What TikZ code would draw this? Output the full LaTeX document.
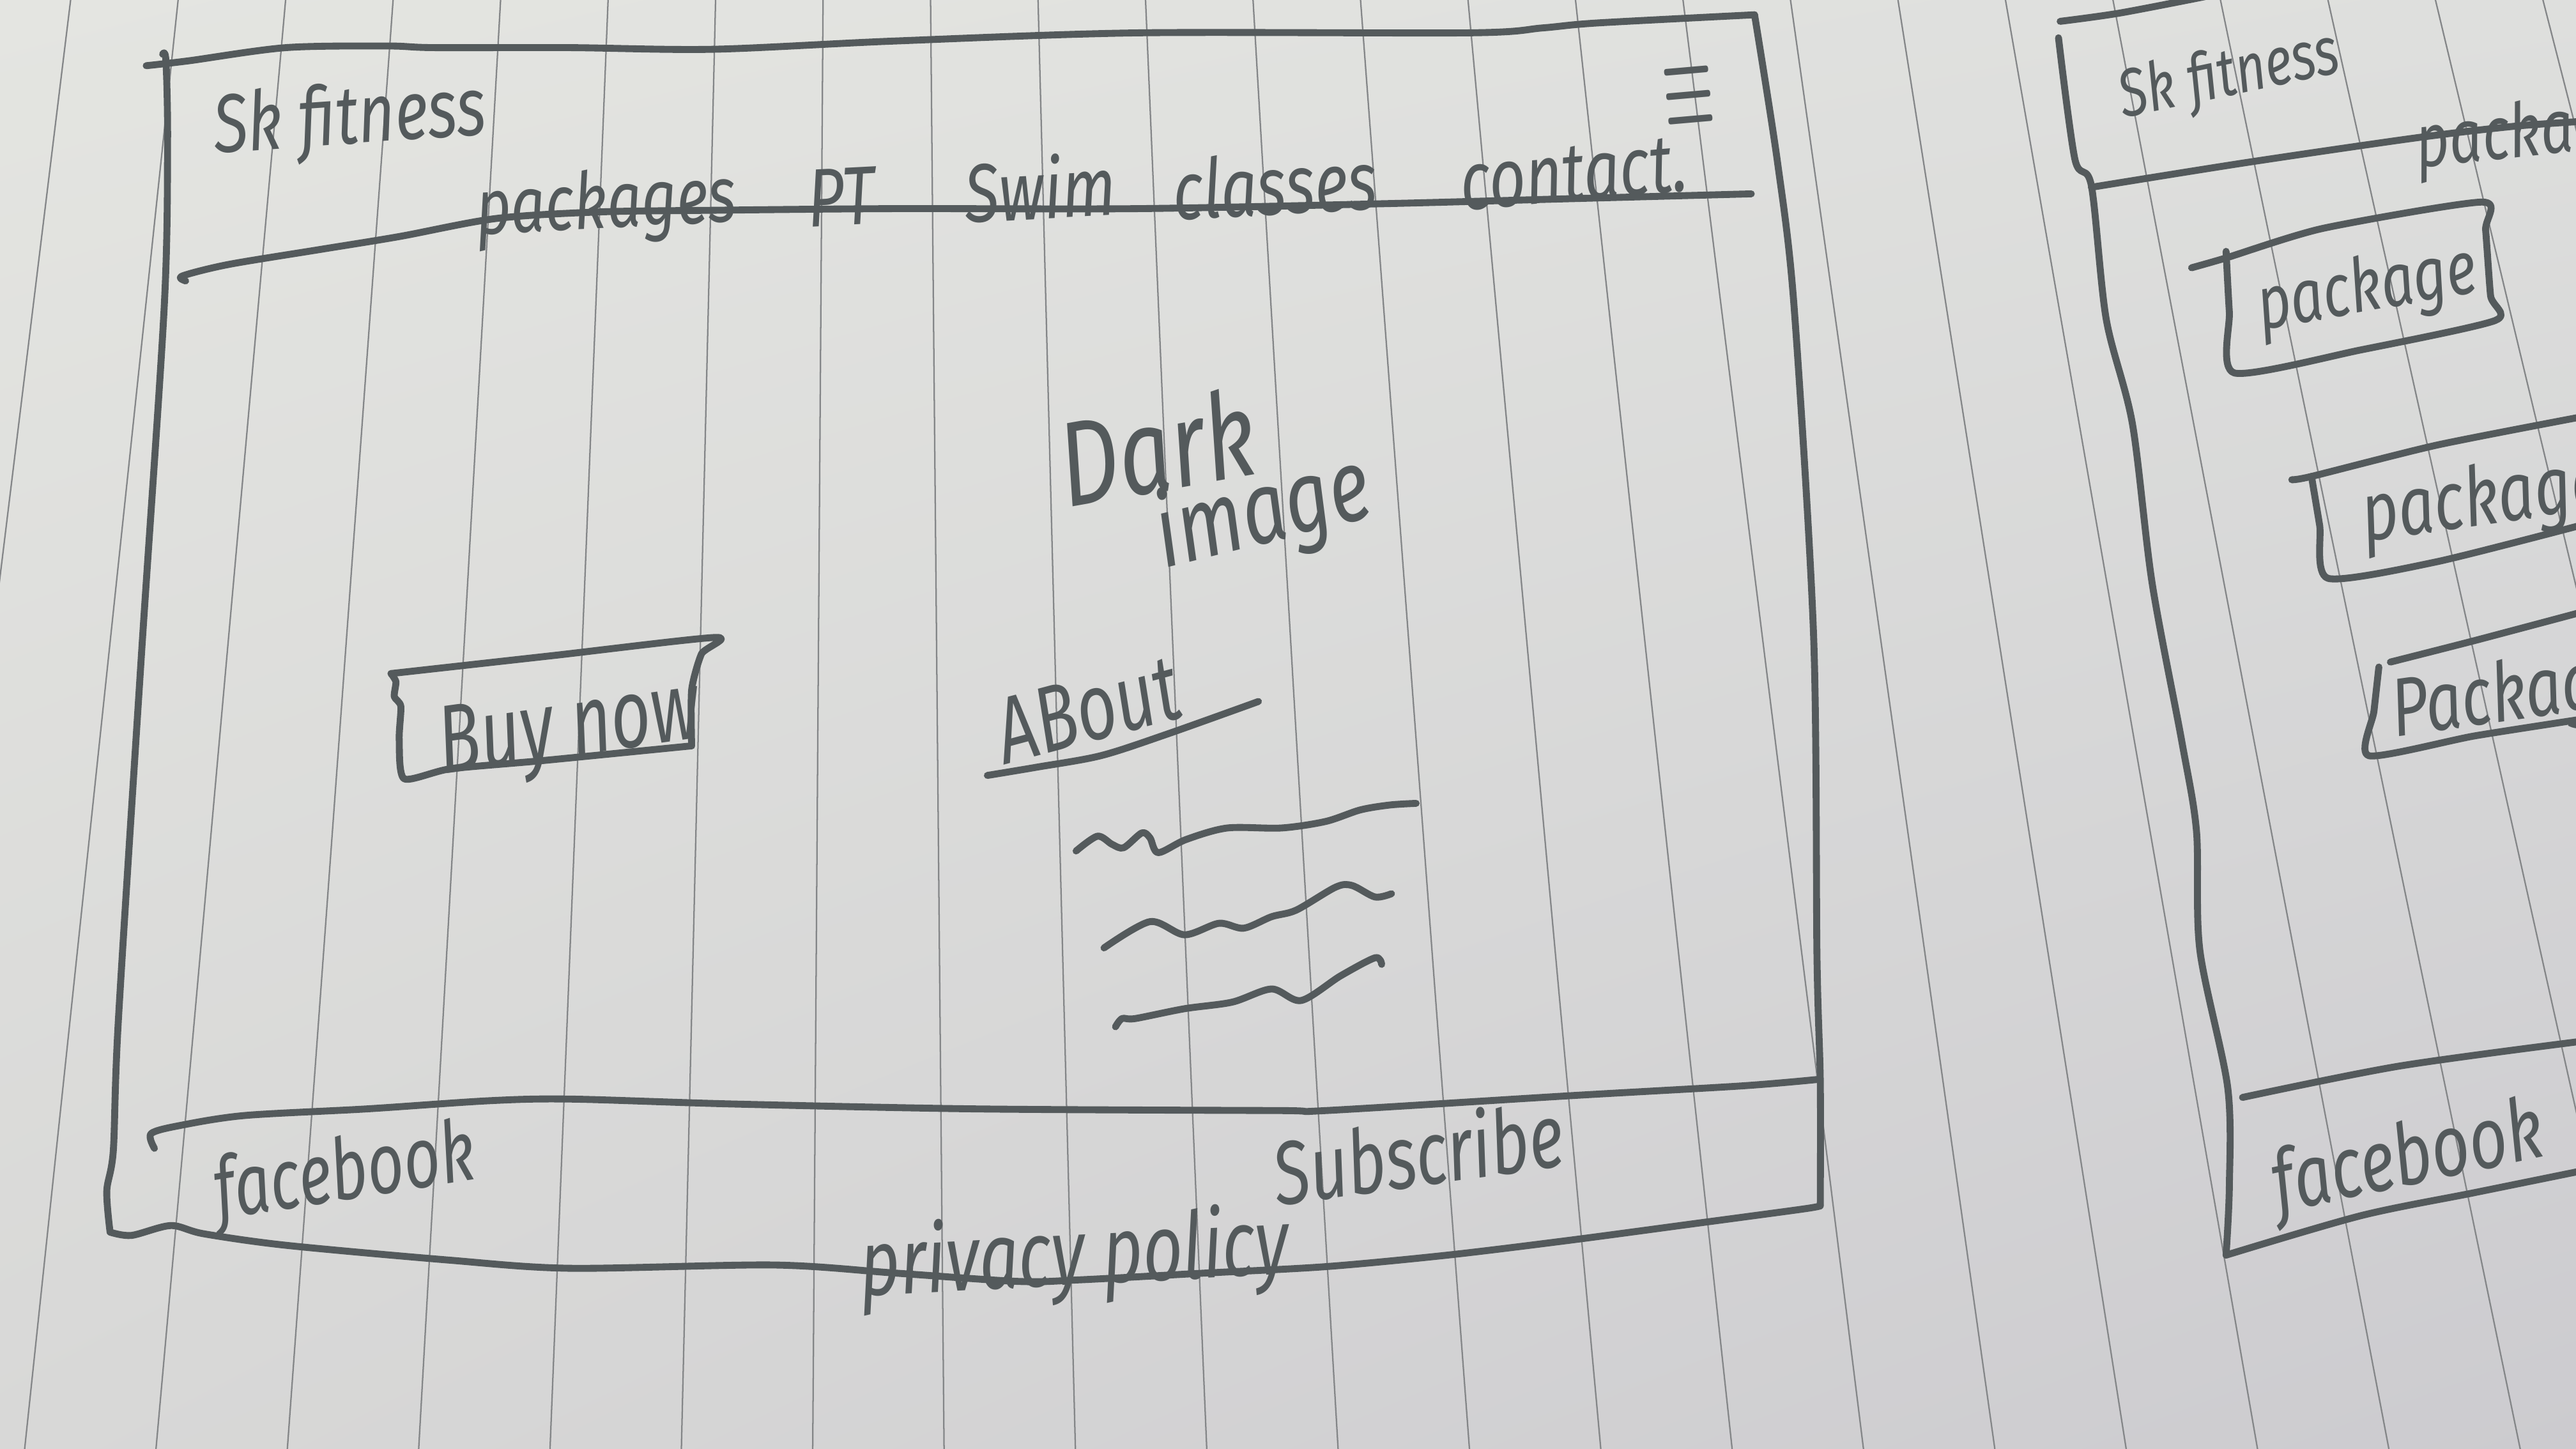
\documentclass[tikz,border=0pt]{standalone}
\usepackage{fontspec}
\setmainfont{Fira Sans}
\usepackage{graphicx}
\usetikzlibrary{shadings}

\definecolor{ink}{RGB}{84,90,92}
\definecolor{rulecol}{RGB}{132,134,136}
\definecolor{paperUL}{RGB}{228,229,225}
\definecolor{paperUR}{RGB}{222,223,221}
\definecolor{paperLL}{RGB}{216,216,215}
\definecolor{paperLR}{RGB}{204,203,207}

% rotate and stretch a piece of handwriting
\newcommand\handtext[3]{\rotatebox{#1}{\scalebox{1}[#2]{#3}}}

\tikzset{
  pen/.style={draw=ink, line width=1.2pt, line cap=round, line join=round},
  ruling/.style={draw=rulecol, line width=0.25pt},
  hand/.style={text=ink, inner sep=0pt, font=\itshape\fontsize{#1}{#1}\selectfont},
  hand/.default=11,
}

\begin{document}
\begin{tikzpicture}[x=0.01cm, y=-0.01cm]
  \useasboundingbox (0,0) rectangle (1568,882);
  \clip (0,0) rectangle (1568,882);

  % paper
  \shade[upper left=paperUL, upper right=paperUR, lower left=paperLL, lower right=paperLR]
    (0,0) rectangle (1568,882);

  % ruled lines of the notebook page
  \foreach \k in {-7,...,17}
    \draw[ruling] ({501+65.43*\k},0) -- ({494.7+79.95*\k},882);

  % ---------------- desktop page ----------------
  % outer frame
  \draw[pen] plot[smooth, tension=0.5] coordinates {(89,40) (115,37) (174,29) (236,28) (264,29) (347,29) (434,30) (544,25) (693,20) (894,20) (939,17) (972,14) (1068,9)};
  \draw[pen] plot[smooth, tension=0.5] coordinates {(1068,9) (1082,99) (1092,186) (1104,389) (1106,583) (1108,658) (1108,734)};
  \draw[pen] plot[smooth, tension=0.5] coordinates {(1108,734) (1097,736) (1030,745) (955,755) (881,764) (807,771) (732,775) (658,779) (620,780) (546,775) (471,770) (347,772) (273,767) (174,758) (124,751) (104,746) (80,752) (67,750)};
  \draw[pen] plot[smooth, tension=0.5] coordinates {(67,750) (65,725) (69,700) (72,622) (86,400) (100,186) (102,87) (101,37) (99,33)};

  % header rule and footer rule
  \draw[pen] plot[smooth, tension=0.5] coordinates {(113,171) (111,168) (139,161) (194,152) (243,144) (302,133) (365,129) (434,128) (544,127) (693,127) (842,124) (954,121) (1066,118)};
  \draw[pen] plot[smooth, tension=0.5] coordinates {(94,699) (92,690) (110,685) (149,679) (223,675) (298,670) (347,669) (446,672) (595,675) (778,676) (807,676) (955,667) (1060,661) (1107,657)};

  % header content
  \node[hand=11] (logo) at (213,74) {\handtext{4}{1.3}{Sk fitness}};
  \node[hand=10.5] (navpackages) at (369,126) {\handtext{3}{1.3}{packages}};
  \node[hand=11] (navpt) at (512,120) {\handtext{3}{1.3}{PT}};
  \node[hand=11] (navswim) at (633,114) {\handtext{3}{1.3}{Swim}};
  \node[hand=11] (navclasses) at (776,112) {\handtext{3}{1.3}{classes}};
  \node[hand=11] (navcontact) at (958,106) {\handtext{5}{1.3}{contact.}};
  \node[text=ink, inner sep=0pt] (menu) at (1028,58) {\handtext{5}{1.9}{\boldmath$\equiv$}};

  % hero
  \node[hand=16] (dark) at (704,272) {\handtext{10}{1.3}{Dark}};
  \node[hand=13.5] (image) at (769,313) {\handtext{14}{1.3}{image}};

  % buy button
  \draw[pen] plot[smooth, tension=0.4] coordinates {(238,410) (337,399) (436,388) (427,398) (421,420) (421,454)};
  \draw[pen] plot[smooth, tension=0.4] coordinates {(421,454) (330,463) (274,468) (246,474) (243,450) (244,430) (240,424) (241,415) (238,410)};
  \node[hand=12] (buy) at (347,446) {\handtext{8}{1.4}{Buy now}};

  % about section
  \node[hand=12] (about) at (662,432) {\handtext{15}{1.35}{ABout}};
  \draw[pen] plot[smooth, tension=0.5] coordinates {(601,472) (631,467) (670,460) (710,447) (766,427)};
  \draw[pen] plot[smooth, tension=0.5] coordinates {(655,518) (668,509) (677,514) (684,516) (695,507) (700,510) (705,519) (722,511) (747,504) (780,504) (807,500) (828,493) (846,490) (862,489)};
  \draw[pen] plot[smooth, tension=0.5] coordinates {(672,577) (700,561) (721,569) (742,562) (757,565) (774,558) (789,554) (813,540) (823,539) (837,546) (847,544)};
  \draw[pen] plot[smooth, tension=0.5] coordinates {(679,625) (683,620) (691,620) (721,614) (750,610) (774,602) (792,609) (816,594) (837,583) (841,587)};

  % footer content
  \node[hand=11] (facebook) at (210,716) {\handtext{9}{1.35}{facebook}};
  \node[hand=11.5] (subscribe) at (863,701) {\handtext{8}{1.35}{Subscribe}};
  \node[hand=12] (privacy) at (654,766) {\handtext{3}{1.35}{privacy policy}};

  % ---------------- mobile page ----------------
  \draw[pen] plot[smooth, tension=0.5] coordinates {(1254,13) (1290,8) (1342,-2)};
  \draw[pen] plot[smooth, tension=0.5] coordinates {(1253,23) (1263,97) (1273,113) (1282,194) (1298,258) (1310,355) (1328,451) (1337,506) (1339,578) (1356,662) (1357,722) (1355,764)};
  \draw[pen] plot[smooth, tension=0.5] coordinates {(1355,764) (1437,740) (1506,726) (1570,713)};
  \draw[pen] plot[smooth, tension=0.5] coordinates {(1273,114) (1367,99) (1470,84) (1529,77) (1570,74)};
  \draw[pen] plot[smooth, tension=0.5] coordinates {(1365,668) (1460,649) (1570,634)};

  \node[hand=9] (mlogo) at (1357,47) {\handtext{12}{1.3}{Sk fitness}};
  \node[hand=10, anchor=west] (mnav) at (1468,82) {\handtext{6}{1.3}{packages}};

  % package cards
  \draw[pen] plot[smooth, tension=0.4] coordinates {(1334,163) (1355,157) (1414,139) (1511,123) (1513,140) (1516,180) (1519,195) (1437,213) (1360,227) (1357,190) (1355,153)};
  \node[hand=10] (card1) at (1441,177) {\handtext{10}{1.3}{package}};

  \draw[pen] plot[smooth, tension=0.4] coordinates {(1395,292) (1407,290) (1483,271) (1570,254)};
  \draw[pen] plot[smooth, tension=0.4] coordinates {(1407,290) (1412,320) (1417,352) (1483,342) (1570,320)};
  \node[hand=11, anchor=west] (card2) at (1434,306) {\handtext{8}{1.3}{package}};

  \draw[pen] plot[smooth, tension=0.4] coordinates {(1455,403) (1506,390) (1570,373)};
  \draw[pen] plot[smooth, tension=0.4] coordinates {(1448,406) (1445,433) (1442,460) (1506,448) (1570,438)};
  \node[hand=11, anchor=west] (card3) at (1452,425) {\handtext{8}{1.3}{Package}};

  \node[hand=11.5] (mfacebook) at (1466,707) {\handtext{12}{1.3}{facebook}};
\end{tikzpicture}
\end{document}
